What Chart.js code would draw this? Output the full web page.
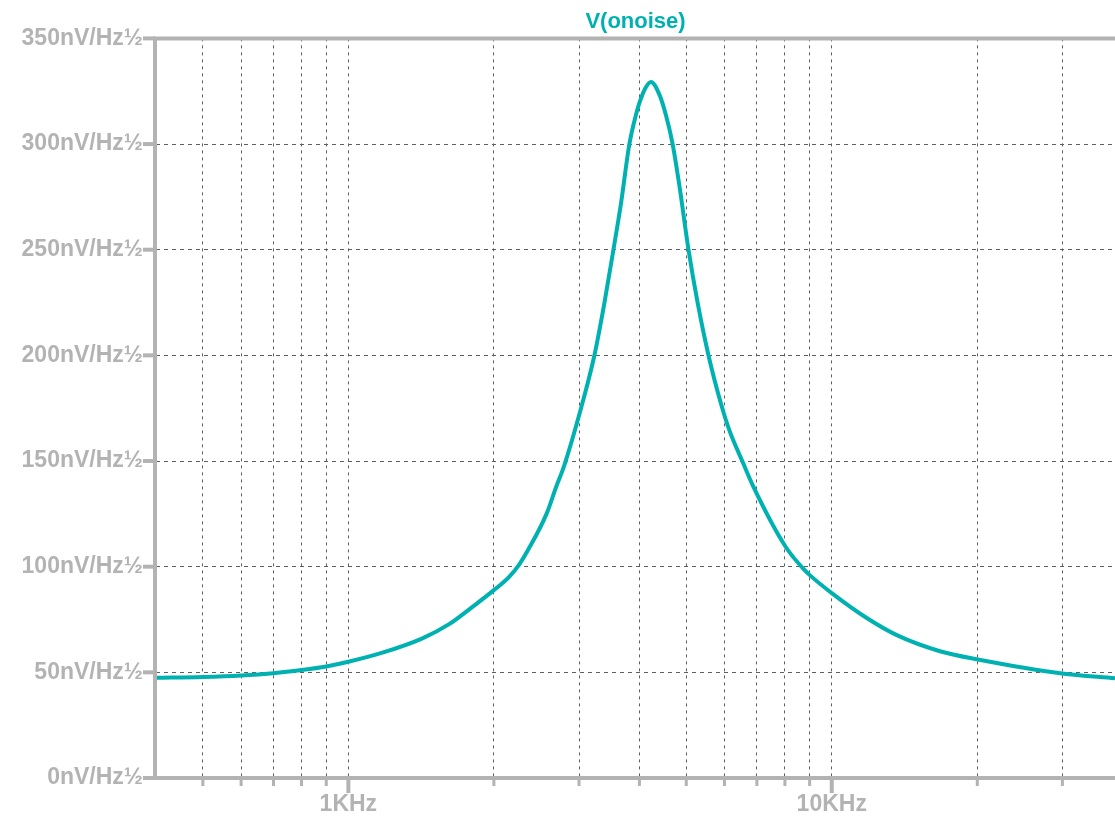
<!DOCTYPE html>
<html>
<head>
<meta charset="utf-8">
<script src="https://cdn.jsdelivr.net/npm/chart.js@4.4.1/dist/chart.umd.min.js"></script>
<style>
    html, body { margin: 0; padding: 0; background: #ffffff; overflow: hidden; }
    #wrap { width: 1115px; height: 820px; }
</style>
</head>
<body>
<div id="wrap"><canvas id="noise-chart" width="1115" height="820"></canvas></div>
<script>
// Frequency points (Hz) and output noise (nV/Hz½)
const freqs = [400, 500, 600, 700, 800, 900, 1000, 1176, 1423, 1616, 1806, 2000, 2151, 2256,
    2348, 2570, 2688, 2797, 3004, 3227, 3384, 3532, 3664, 3813, 3936, 4000, 4128, 4227,
    4398, 4541, 4687, 4838, 5057, 5279, 5564, 5902, 6141, 6543, 6863, 8033, 8710, 9005,
    10000, 11815, 13630, 16740, 20060, 29950, 38540];
const noise = [47.4, 47.8, 48.5, 49.6, 51.1, 52.8, 55.0, 59.3, 66.1, 72.8, 81.0, 88.9, 95.2, 101.0,
    107.5, 125.0, 137.5, 148.0, 172.0, 199.8, 224.5, 249.6, 271.9, 299.9, 314.0, 319.5, 327.0, 329.4,
    323.5, 313.5, 299.9, 280.5, 249.6, 224.8, 199.6, 177.0, 164.5, 149.5, 138.5, 109.3, 99.3, 96.0,
    87.5, 75.7, 67.6, 60.0, 56.1, 49.5, 47.2];

// Axis ticks
const xTicks = [500, 600, 700, 800, 900, 1000, 2000, 3000, 4000, 5000, 6000, 7000, 8000, 9000,
    10000, 20000, 30000];
const xLabels = { 1000: '1KHz', 10000: '10KHz' };
const yTicks = [0, 50, 100, 150, 200, 250, 300, 350];
const yUnit = 'nV/Hz½';

const colors = {
    trace: '#00b1b1',
    axis: '#b3b3b3',
    grid: '#5e5e5e'
};
const labelFont = { family: "'Liberation Sans', Arial, sans-serif", size: 23, weight: 'bold' };

// Draws the thick grey frame and tick marks the way the simulator does
const framePlugin = {
    id: 'frame',
    afterDraw: function(chart) {
        const ctx = chart.ctx;
        const area = chart.chartArea;
        const xs = chart.scales.x;
        const ys = chart.scales.y;
        ctx.save();
        ctx.strokeStyle = colors.axis;
        ctx.lineCap = 'butt';

        ctx.lineWidth = 4;
        ctx.beginPath();
        ctx.moveTo(area.left - 1, area.bottom + 2);
        ctx.lineTo(area.left - 1, area.top - 2);
        ctx.moveTo(area.left - 3, area.top);
        ctx.lineTo(area.right, area.top);
        ctx.moveTo(area.left - 3, area.bottom);
        ctx.lineTo(area.right, area.bottom);
        ctx.stroke();

        // left ticks
        yTicks.forEach(function(v) {
            const y = ys.getPixelForValue(v);
            ctx.beginPath();
            ctx.moveTo(area.left - 13, y);
            ctx.lineTo(area.left - 1, y);
            ctx.stroke();
        });

        // bottom ticks
        xTicks.forEach(function(v) {
            const x = xs.getPixelForValue(v);
            const major = xLabels[v] !== undefined;
            ctx.lineWidth = major ? 4 : 3;
            ctx.beginPath();
            ctx.moveTo(x, area.bottom);
            ctx.lineTo(x, area.bottom + (major ? 15 : 8));
            ctx.stroke();
        });
        ctx.restore();
    }
};

const points = freqs.map(function(f, i) { return { x: f, y: noise[i] }; });

new Chart(document.getElementById('noise-chart'), {
    type: 'line',
    data: {
        datasets: [{
            label: 'V(onoise)',
            data: points,
            borderColor: colors.trace,
            borderWidth: 4,
            pointRadius: 0,
            fill: false,
            cubicInterpolationMode: 'monotone'
        }]
    },
    options: {
        responsive: false,
        animation: false,
        layout: { padding: { left: 0, right: 0, top: 0, bottom: 0 } },
        plugins: {
            legend: { display: false },
            tooltip: { enabled: false },
            title: {
                display: true,
                text: 'V(onoise)',
                color: colors.trace,
                fullSize: false,
                font: { family: labelFont.family, size: 22, weight: 'bold', lineHeight: 1.2 },
                padding: { top: 9, bottom: 3 }
            }
        },
        scales: {
            x: {
                type: 'logarithmic',
                min: 400,
                max: 38540,
                afterBuildTicks: function(scale) {
                    scale.ticks = xTicks.map(function(v) {
                        return { value: v, major: xLabels[v] !== undefined };
                    });
                },
                afterFit: function(scale) { scale.height = 42; },
                border: { display: false, dash: [3, 4] },
                grid: {
                    color: colors.grid,
                    lineWidth: 1,
                    drawTicks: false
                },
                ticks: {
                    autoSkip: false,
                    maxRotation: 0,
                    padding: 13,
                    color: colors.axis,
                    font: labelFont,
                    callback: function(value) { return xLabels[value] || ''; }
                }
            },
            y: {
                min: 0,
                max: 350,
                afterBuildTicks: function(scale) {
                    scale.ticks = yTicks.map(function(v) { return { value: v }; });
                },
                afterFit: function(scale) { scale.width = 156; },
                border: { display: false, dash: [4, 4] },
                grid: {
                    color: colors.grid,
                    lineWidth: 1,
                    drawTicks: false
                },
                ticks: {
                    padding: 13,
                    color: colors.axis,
                    font: labelFont,
                    callback: function(value) { return value + yUnit; }
                }
            }
        }
    },
    plugins: [framePlugin]
});
</script>
</body>
</html>
